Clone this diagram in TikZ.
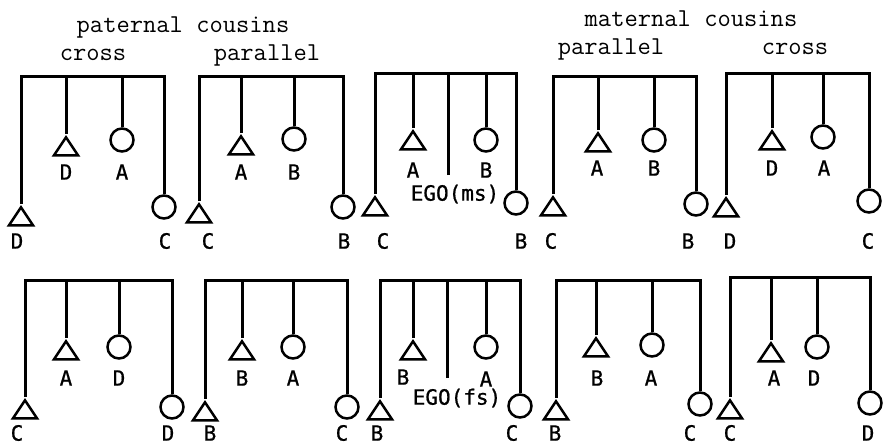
\documentclass[tikz,border=0pt]{standalone}
\usepackage{fontspec}
\newfontfamily\lblfont[FakeBold=0.8]{DejaVu Sans Mono}
\usetikzlibrary{shapes.geometric}
\tikzset{
  kin/.style={line width=3pt},
  tri/.style={isosceles triangle, isosceles triangle stretches, shape border rotate=90,
    draw, line width=2.5pt, minimum width=24pt, minimum height=18pt, inner sep=0pt, anchor=apex},
  circ/.style={circle, draw, line width=2.5pt, minimum size=23pt, inner sep=0pt},
  lbl/.style={font=\lblfont\fontsize{21}{21}\selectfont, inner sep=0pt, text height=15.3pt, text depth=0pt},
  ttl/.style={font=\ttfamily\fontsize{25.8}{26}\selectfont\addfontfeatures{FakeBold=1.2}, inner sep=0pt, anchor=base}
}
\begin{document}
\begin{tikzpicture}[x=1pt,y=-1pt]
\useasboundingbox (0,0) rectangle (883,444);

% headings
\node[ttl] (hpat) at (183,33) {paternal cousins};
\node[ttl] (hpc)  at (93,60)  {cross};
\node[ttl] (hpp)  at (267,60) {parallel};
\node[ttl] (hmat) at (691,27) {maternal cousins};
\node[ttl] (hmp)  at (611,55) {parallel};
\node[ttl] (hmc)  at (795,55) {cross};

% ---------- upper row (male ego) ----------
% paternal cross
\coordinate (b1) at (90,76);
\node[tri] (t1l) at (21,204) {};
\node[tri] (t1i) at (66,134) {};
\node[circ] (c1i) at (122,140) {};
\node[circ] (c1r) at (164,207) {};
\draw[kin] (t1l.apex) |- (b1) -| (c1r.north);
\draw[kin] (t1i.apex) -- (t1i.apex |- b1);
\draw[kin] (c1i.north) -- (c1i.north |- b1);
\node[lbl] (l1a) at (66,172) {D};
\node[lbl] (l1b) at (122,172) {A};
\node[lbl] (l1c) at (17,241) {D};
\node[lbl] (l1d) at (165,241) {C};

% paternal parallel
\coordinate (b2) at (270,76);
\node[tri] (t2l) at (199,201) {};
\node[tri] (t2i) at (241,133) {};
\node[circ] (c2i) at (294,139) {};
\node[circ] (c2r) at (343,207) {};
\draw[kin] (t2l.apex) |- (b2) -| (c2r.north);
\draw[kin] (t2i.apex) -- (t2i.apex |- b2);
\draw[kin] (c2i.north) -- (c2i.north |- b2);
\node[lbl] (l2a) at (241,172) {A};
\node[lbl] (l2b) at (294,172) {B};
\node[lbl] (l2c) at (208,241) {C};
\node[lbl] (l2d) at (344,241) {B};

% ego (ms)
\coordinate (b3) at (445,73);
\node[tri] (t3l) at (375,194) {};
\node[tri] (t3i) at (413,128) {};
\coordinate (e3) at (448,175);
\node[circ] (c3i) at (486,140) {};
\node[circ] (c3r) at (516,203) {};
\draw[kin] (t3l.apex) |- (b3) -| (c3r.north);
\draw[kin] (t3i.apex) -- (t3i.apex |- b3);
\draw[kin] (e3) -- (e3 |- b3);
\draw[kin] (c3i.north) -- (c3i.north |- b3);
\node[lbl] (l3a) at (413,170) {A};
\node[lbl] (l3b) at (486,170) {B};
\node[lbl] (l3e) at (455,193) {EGO(ms)};
\node[lbl] (l3c) at (383,241) {C};
\node[lbl] (l3d) at (521,241) {B};

% maternal parallel
\coordinate (b4) at (625,76);
\node[tri] (t4l) at (553,194) {};
\node[tri] (t4i) at (598,130) {};
\node[circ] (c4i) at (654,140) {};
\node[circ] (c4r) at (696,204) {};
\draw[kin] (t4l.apex) |- (b4) -| (c4r.north);
\draw[kin] (t4i.apex) -- (t4i.apex |- b4);
\draw[kin] (c4i.north) -- (c4i.north |- b4);
\node[lbl] (l4a) at (597,168) {A};
\node[lbl] (l4b) at (654,168) {B};
\node[lbl] (l4c) at (551,241) {C};
\node[lbl] (l4d) at (688,241) {B};

% maternal cross
\coordinate (b5) at (800,73);
\node[tri] (t5l) at (726,195) {};
\node[tri] (t5i) at (772,128) {};
\node[circ] (c5i) at (823,137) {};
\node[circ] (c5r) at (869,201) {};
\draw[kin] (t5l.apex) |- (b5) -| (c5r.north);
\draw[kin] (t5i.apex) -- (t5i.apex |- b5);
\draw[kin] (c5i.north) -- (c5i.north |- b5);
\node[lbl] (l5a) at (772,168) {D};
\node[lbl] (l5b) at (824,168) {A};
\node[lbl] (l5c) at (730,241) {D};
\node[lbl] (l5d) at (868,241) {C};

% ---------- lower row (female ego) ----------
% paternal cross
\coordinate (b6) at (90,280);
\node[tri] (t6l) at (25,397) {};
\node[tri] (t6i) at (66,338) {};
\node[circ] (c6i) at (119,347) {};
\node[circ] (c6r) at (172,407) {};
\draw[kin] (t6l.apex) |- (b6) -| (c6r.north);
\draw[kin] (t6i.apex) -- (t6i.apex |- b6);
\draw[kin] (c6i.north) -- (c6i.north |- b6);
\node[lbl] (l6a) at (66,378) {A};
\node[lbl] (l6b) at (119,378) {D};
\node[lbl] (l6c) at (17,433) {C};
\node[lbl] (l6d) at (168,433) {D};

% paternal parallel
\coordinate (b7) at (270,280);
\node[tri] (t7l) at (205,399) {};
\node[tri] (t7i) at (242,338) {};
\node[circ] (c7i) at (293,347) {};
\node[circ] (c7r) at (347,407) {};
\draw[kin] (t7l.apex) |- (b7) -| (c7r.north);
\draw[kin] (t7i.apex) -- (t7i.apex |- b7);
\draw[kin] (c7i.north) -- (c7i.north |- b7);
\node[lbl] (l7a) at (242,378) {B};
\node[lbl] (l7b) at (293,378) {A};
\node[lbl] (l7c) at (210,433) {B};
\node[lbl] (l7d) at (342,433) {C};

% ego (fs)
\coordinate (b8) at (450,280);
\node[tri] (t8l) at (380,398) {};
\node[tri] (t8i) at (413,338) {};
\coordinate (e8) at (447,378);
\node[circ] (c8i) at (486,347) {};
\node[circ] (c8r) at (520,406) {};
\draw[kin] (t8l.apex) |- (b8) -| (c8r.north);
\draw[kin] (t8i.apex) -- (t8i.apex |- b8);
\draw[kin] (e8) -- (e8 |- b8);
\draw[kin] (c8i.north) -- (c8i.north |- b8);
\node[lbl] (l8a) at (403,377) {B};
\node[lbl] (l8b) at (486,379) {A};
\node[lbl] (l8e) at (457,397) {EGO(fs)};
\node[lbl] (l8c) at (377,433) {B};
\node[lbl] (l8d) at (512,433) {C};

% maternal parallel
\coordinate (b9) at (625,280);
\node[tri] (t9l) at (556,398) {};
\node[tri] (t9i) at (596,335) {};
\node[circ] (c9i) at (652,345) {};
\node[circ] (c9r) at (700,404) {};
\draw[kin] (t9l.apex) |- (b9) -| (c9r.north);
\draw[kin] (t9i.apex) -- (t9i.apex |- b9);
\draw[kin] (c9i.north) -- (c9i.north |- b9);
\node[lbl] (l9a) at (597,378) {B};
\node[lbl] (l9b) at (651,378) {A};
\node[lbl] (l9c) at (555,433) {B};
\node[lbl] (l9d) at (690,433) {C};

% maternal cross
\coordinate (b10) at (800,277);
\node[tri] (t10l) at (730,397) {};
\node[tri] (t10i) at (771,340) {};
\node[circ] (c10i) at (817,347) {};
\node[circ] (c10r) at (870,403) {};
\draw[kin] (t10l.apex) |- (b10) -| (c10r.north);
\draw[kin] (t10i.apex) -- (t10i.apex |- b10);
\draw[kin] (c10i.north) -- (c10i.north |- b10);
\node[lbl] (l10a) at (774,378) {A};
\node[lbl] (l10b) at (814,378) {D};
\node[lbl] (l10c) at (730,433) {C};
\node[lbl] (l10d) at (868,433) {D};
\end{tikzpicture}
\end{document}
